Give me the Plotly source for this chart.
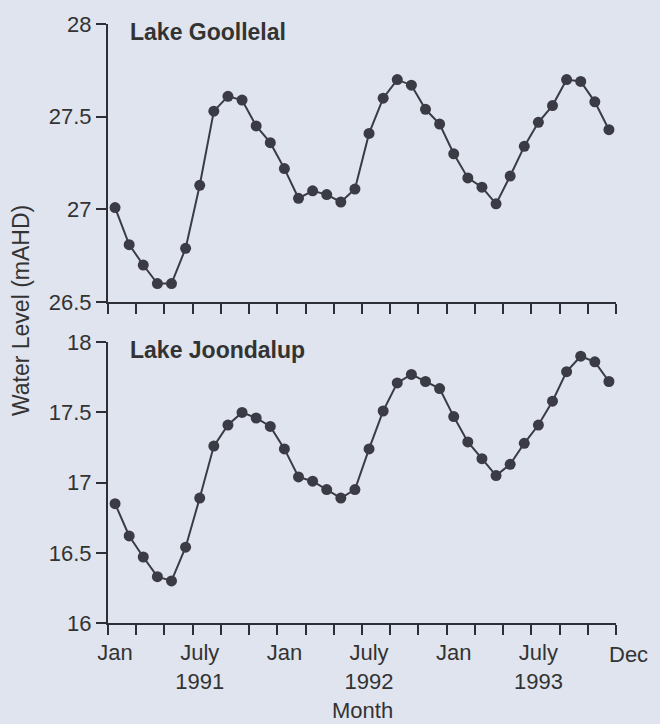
import plotly.graph_objects as go
from plotly.subplots import make_subplots

# Monthly observations, Jan 1991 .. Dec 1993
months = ["Jan 1991", "Feb 1991", "Mar 1991", "Apr 1991", "May 1991", "Jun 1991",
          "Jul 1991", "Aug 1991", "Sep 1991", "Oct 1991", "Nov 1991", "Dec 1991",
          "Jan 1992", "Feb 1992", "Mar 1992", "Apr 1992", "May 1992", "Jun 1992",
          "Jul 1992", "Aug 1992", "Sep 1992", "Oct 1992", "Nov 1992", "Dec 1992",
          "Jan 1993", "Feb 1993", "Mar 1993", "Apr 1993", "May 1993", "Jun 1993",
          "Jul 1993", "Aug 1993", "Sep 1993", "Oct 1993", "Nov 1993", "Dec 1993"]
month_pos = list(range(len(months)))

goollelal = [27.01, 26.81, 26.70, 26.60, 26.60, 26.79, 27.13, 27.53, 27.61, 27.59,
             27.45, 27.36, 27.22, 27.06, 27.10, 27.08, 27.04, 27.11, 27.41, 27.60,
             27.70, 27.67, 27.54, 27.46, 27.30, 27.17, 27.12, 27.03, 27.18, 27.34,
             27.47, 27.56, 27.70, 27.69, 27.58, 27.43]
joondalup = [16.85, 16.62, 16.47, 16.33, 16.30, 16.54, 16.89, 17.26, 17.41, 17.50,
             17.46, 17.40, 17.24, 17.04, 17.01, 16.95, 16.89, 16.95, 17.24, 17.51,
             17.71, 17.77, 17.72, 17.67, 17.47, 17.29, 17.17, 17.05, 17.13, 17.28,
             17.41, 17.58, 17.79, 17.90, 17.86, 17.72]

x_label_pos = [0, 6, 12, 18, 24, 30]
x_label_text = ["Jan", "July<br>1991", "Jan", "July<br>1992", "Jan", "July<br>1993"]
x_tick_pos = [-0.5 + 2 * k for k in range(19)]

top_ticks = [26.5, 27, 27.5, 28]
top_ticktext = ["26.5", "27", "27.5", "28"]
bot_ticks = [16, 16.5, 17, 17.5, 18]
bot_ticktext = ["16", "16.5", "17", "17.5", "18"]

INK = "#3b3b46"
AX = "#2e2e36"
BG = "#e0e4ee"
TXT = "#333333"
FONT = "Liberation Sans, Arial, sans-serif"

fig = make_subplots(rows=2, cols=1, shared_xaxes=False, vertical_spacing=0.0)

for row, vals in ((1, goollelal), (2, joondalup)):
    fig.add_trace(go.Scatter(x=month_pos, y=vals, mode="lines+markers",
                             line=dict(color=INK, width=2),
                             marker=dict(color=INK, size=11),
                             showlegend=False, cliponaxis=False), row=row, col=1)

xcommon = dict(range=[-0.5, 35.5], showgrid=False, zeroline=False,
               showline=True, linecolor=AX, linewidth=2,
               ticks="outside", ticklen=9, tickcolor="rgba(0,0,0,0)",
               tickvals=x_label_pos, ticktext=x_label_text,
               tickfont=dict(family=FONT, size=22, color=TXT),
               minor=dict(tickvals=x_tick_pos, ticks="outside", ticklen=10,
                          tickwidth=1.5, tickcolor=AX, showgrid=False))
fig.update_xaxes(**xcommon)
fig.update_xaxes(showticklabels=False, row=1, col=1)

ycommon = dict(showgrid=False, zeroline=False, showline=True, linecolor=AX,
               linewidth=2, ticks="outside", ticklen=10, tickwidth=1.5, tickcolor=AX,
               tickfont=dict(family=FONT, size=22, color=TXT))
fig.update_yaxes(**ycommon)
fig.update_yaxes(range=[26.5, 28], tickvals=top_ticks, ticktext=top_ticktext, row=1, col=1)
fig.update_yaxes(range=[16, 18], tickvals=bot_ticks, ticktext=bot_ticktext, row=2, col=1)

fig.update_layout(
    width=660, height=724,
    margin=dict(l=108, r=44, t=20, b=101),
    paper_bgcolor=BG, plot_bgcolor=BG,
    yaxis=dict(domain=[0.5357, 1.0]),
    yaxis2=dict(domain=[0.0, 0.4688]),
    xaxis=dict(domain=[0, 1]), xaxis2=dict(domain=[0, 1]),
)

fig.add_annotation(text="<b>Lake Goollelal</b>", xref="x", yref="y", x=0.9, y=28,
                   xanchor="left", yanchor="middle", yshift=-8, showarrow=False,
                   font=dict(family=FONT, size=23, color=TXT))
fig.add_annotation(text="<b>Lake Joondalup</b>", xref="x2", yref="y2", x=0.9, y=18,
                   xanchor="left", yanchor="middle", yshift=-8, showarrow=False,
                   font=dict(family=FONT, size=23, color=TXT))
fig.add_annotation(text="Dec", xref="x2", yref="paper", x=35, y=0,
                   xanchor="left", yanchor="top", xshift=-2, yshift=-17, showarrow=False,
                   font=dict(family=FONT, size=22, color=TXT))
fig.add_annotation(text="Water Level (mAHD)", xref="paper", yref="paper", x=0, y=0.5207,
                   xshift=-87, textangle=-90, xanchor="center", yanchor="middle",
                   showarrow=False, font=dict(family=FONT, size=23, color=TXT))
fig.add_annotation(text="Month", xref="paper", yref="paper", x=0.5, y=0,
                   yshift=-87, xanchor="center", yanchor="middle",
                   showarrow=False, font=dict(family=FONT, size=22, color=TXT))

fig.write_html("out.html", config={"displayModeBar": False},
               post_script="document.body.style.margin='0px';"
                           "document.body.style.background='" + BG + "';")
